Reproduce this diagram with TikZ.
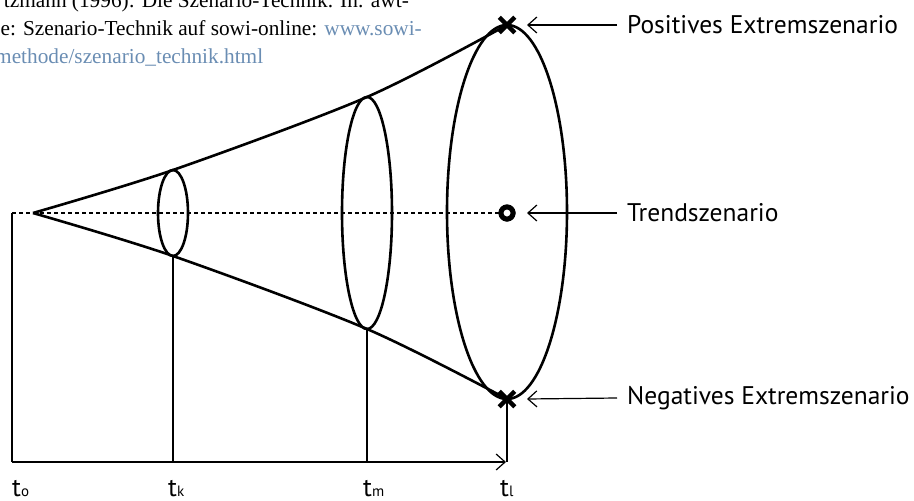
\documentclass[tikz,border=0pt]{standalone}
\usepackage{fontspec}
\setmainfont{Liberation Serif}
\newfontfamily\labelfont{PT Sans}
\usetikzlibrary{arrows.meta, positioning, shapes.geometric, shapes.misc}
\usepackage{xcolor}
\definecolor{linkblue}{HTML}{6A8DB3}
\newcommand{\tlabel}[1]{t{\fontsize{15}{15}\selectfont #1}}

\begin{document}
\begin{tikzpicture}[x=1pt, y=-1pt,
  cone/.style={line width=2.6pt},
  slice/.style={draw, ellipse, line width=2.6pt, inner sep=0pt, outer sep=0pt},
  guide/.style={line width=1.2pt},
  pointer/.style={line width=1.2pt, -{Straight Barb[length=9pt, width=16pt]}},
  extreme/.style={draw, cross out, line width=4.5pt, minimum size=11pt, inner sep=0pt},
  trendmark/.style={draw, circle, fill=white, line width=5pt, minimum size=12pt, inner sep=0pt},
  note/.style={font=\labelfont\fontsize{25.5}{28}\selectfont, inner xsep=10pt, inner ysep=0pt},
  tick/.style={font=\labelfont\fontsize{26}{28}\selectfont, inner sep=0pt},
  refline/.style={font=\fontsize{21.3}{28}\selectfont, inner sep=0pt}
]
\useasboundingbox (0,0) rectangle (914,501);

% Quellenangabe (oben angeschnitten)
\node[refline, anchor=base east] (ref1) at (409,7) {tzmann (1996): Die Szenario-Technik. In: awt-};
\node[refline, anchor=base east] (ref2) at (422,35) {e: Szenario-Technik auf sowi-online: \textcolor{linkblue}{www.sowi-}};
\node[refline, anchor=base west, text=linkblue] (ref3) at (-5,63) {methode/szenario\_technik.html};

% Trichter
\coordinate (apex) at (33,213);
\coordinate (start) at (12,213);
\coordinate (axis0) at (12,462);
\coordinate (axis1) at (506,462);

\node[trendmark] (trend) at (507,213) {};
\draw[guide, dash pattern=on 4pt off 3pt] (start) -- (trend);

\node[slice, minimum width=30pt, minimum height=86pt] (e1) at (173,213) {};
\node[slice, minimum width=50pt, minimum height=232pt] (e2) at (367,213) {};
\node[slice, minimum width=120pt, minimum height=374pt] (e3) at (507,212) {};

\draw[cone] plot[smooth] coordinates {(apex) (e1.north) (e2.north) (e3.north)};
\draw[cone] plot[smooth] coordinates {(apex) (e1.south) (e2.south) (e3.south)};

\node[extreme] (xpos) at (e3.north) {};
\node[extreme] (xneg) at (e3.south) {};
\node[trendmark] at (trend) {};

% Zeitachse
\draw[guide] (start) -- (axis0);
\foreach \e in {e1,e2,e3}{\draw[guide] (\e.south) -- (\e.south |- axis0);}
\draw[guide, -{Straight Barb[length=9pt, width=16pt]}] (axis0) -- (axis1);

\node[tick, anchor=base west] (to) at (12,496) {\tlabel{o}};
\node[tick, anchor=base west] (tk) at (168,496) {\tlabel{k}};
\node[tick, anchor=base west] (tm) at (363,496) {\tlabel{m}};
\node[tick, anchor=base west] (tl) at (500,496) {\tlabel{l}};

% Szenarien
\node[note, anchor=west] (lpos) at (617,25) {Positives Extremszenario};
\node[note, anchor=west] (ltrend) at (617,213) {Trendszenario};
\node[note, anchor=west] (lneg) at (617,398) {Negatives Extremszenario};
\draw[pointer] (lpos.west) -- ([xshift=20pt]xpos.center);
\draw[pointer] (ltrend.west) -- ([xshift=20pt]trend.center);
\draw[pointer] (lneg.west) -- ([xshift=20pt]xneg.center);
\end{tikzpicture}
\end{document}
